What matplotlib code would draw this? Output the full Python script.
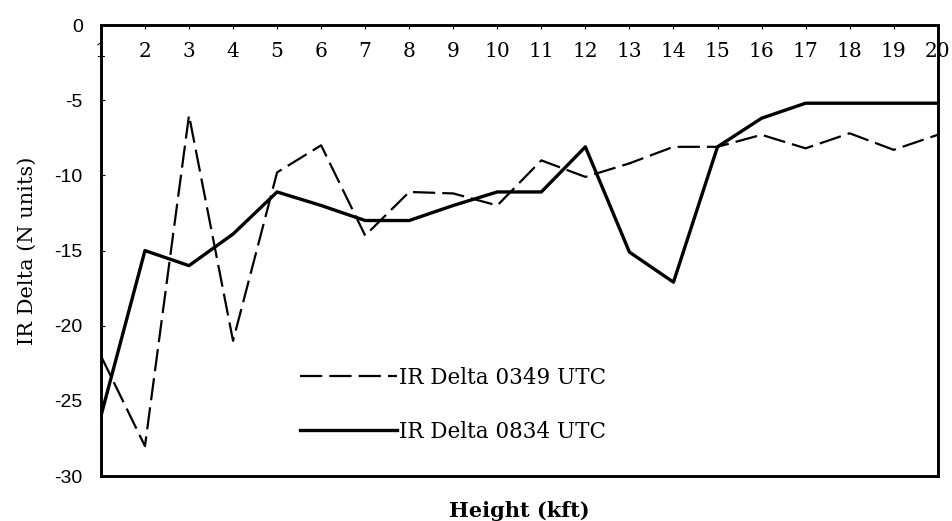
import matplotlib.pyplot as plt

heights = list(range(1, 21))
delta_0349 = [-22, -28, -6.0, -21, -9.8, -8.0, -14, -11.1, -11.2, -12.0,
              -9.0, -10.1, -9.2, -8.1, -8.1, -7.3, -8.2, -7.2, -8.3, -7.3]
delta_0834 = [-26, -15, -16, -13.9, -11.1, -12.0, -13.0, -13.0, -12.0, -11.1,
              -11.1, -8.1, -15.1, -17.1, -8.1, -6.2, -5.2, -5.2, -5.2, -5.2]
yticks = [0, -5, -10, -15, -20, -25, -30]

serif = 'DejaVu Serif'

fig = plt.figure(figsize=(9.52, 5.21), dpi=100)
ax = fig.add_axes([0.106, 0.086, 0.879, 0.866])

ax.plot(heights, delta_0349, color='black', lw=1.6, linestyle=(0, (10, 3.2)),
        label='IR Delta 0349 UTC')
ax.plot(heights, delta_0834, color='black', lw=2.4, label='IR Delta 0834 UTC')

ax.set_xlim(1, 20)
ax.set_ylim(-30, 0)
ax.set_yticks(yticks)
ax.set_yticklabels([str(v) for v in yticks], family='Liberation Sans', fontsize=14)
ax.set_xticks(heights)
ax.set_xticklabels([str(h) for h in heights], family=serif, fontsize=14.5)

ax.tick_params(axis='x', top=True, bottom=False, labeltop=True, labelbottom=False,
               direction='in', length=3, pad=-26)
ax.tick_params(axis='y', direction='in', length=3, pad=13)

for s in ax.spines.values():
    s.set_linewidth(2.1)

ax.set_ylabel('IR Delta (N units)', family=serif, fontsize=15, labelpad=13)
ax.set_xlabel('Height (kft)', family=serif, fontsize=15, fontweight='bold', labelpad=18)

ax.legend(loc='upper left', bbox_to_anchor=(0.238, 0.243), frameon=False,
          prop={'family': serif, 'size': 15.5}, handlelength=4.5, handletextpad=0.1,
          labelspacing=1.49, borderpad=0, borderaxespad=0)

fig.savefig('out.png', dpi=100)
